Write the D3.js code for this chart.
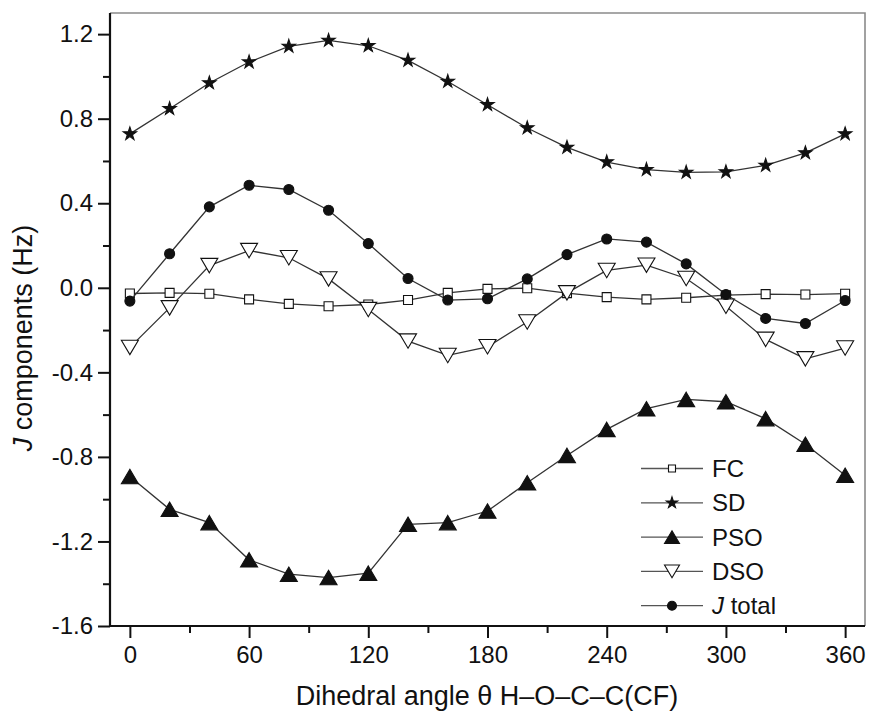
<!DOCTYPE html>
<html>
<head>
<meta charset="utf-8">
<script src="https://cdn.jsdelivr.net/npm/d3@7"></script>
<style>
  html, body { margin: 0; padding: 0; background: #fff; }
  svg { display: block; font-family: "Liberation Sans", Arial, sans-serif; }
</style>
</head>
<body>
<svg id="chart" width="869" height="713"></svg>
<script>
// ---- data ----
const angles = [0, 20, 40, 60, 80, 100, 120, 140, 160, 180, 200, 220, 240, 260, 280, 300, 320, 340, 360];
const FC     = [-0.027, -0.024, -0.028, -0.055, -0.076, -0.087, -0.079, -0.058, -0.024, -0.005, -0.002, -0.025, -0.044, -0.055, -0.047, -0.035, -0.030, -0.032, -0.028];
const SD     = [0.728, 0.847, 0.969, 1.068, 1.142, 1.170, 1.145, 1.076, 0.976, 0.866, 0.756, 0.664, 0.595, 0.559, 0.546, 0.548, 0.579, 0.638, 0.728];
const PSO    = [-0.893, -1.048, -1.111, -1.287, -1.355, -1.371, -1.350, -1.119, -1.111, -1.056, -0.922, -0.793, -0.670, -0.572, -0.528, -0.539, -0.619, -0.740, -0.887];
const DSO    = [-0.282, -0.095, 0.105, 0.176, 0.142, 0.042, -0.103, -0.252, -0.320, -0.279, -0.162, -0.024, 0.082, 0.107, 0.044, -0.087, -0.244, -0.336, -0.285];
const Jtotal = [-0.063, 0.161, 0.383, 0.485, 0.465, 0.367, 0.209, 0.044, -0.058, -0.052, 0.042, 0.157, 0.231, 0.216, 0.113, -0.032, -0.145, -0.169, -0.060];
const seriesNames = ["FC", "SD", "PSO", "DSO", "J total"];
const xTicks = [0, 60, 120, 180, 240, 300, 360];
const yTicks = [-1.6, -1.2, -0.8, -0.4, 0.0, 0.4, 0.8, 1.2];

// ---- layout ----
const L = 110, R = 865, T = 13, B = 626;
const svg = d3.select("#chart");
const x = d3.scaleLinear().domain([-10, 370]).range([L, R]);
const y = d3.scaleLinear().domain([-1.6, 1.3]).range([B, T]);

const ink = "#111";
const lineCol = "#333";
const fontFam = '"Liberation Sans", Arial, sans-serif';

// frame (top & right, gray)
svg.append("path")
  .attr("d", `M${L},${T}H${R}V${B}`)
  .attr("fill", "none").attr("stroke", "#8a8a8a").attr("stroke-width", 1.6);

// minor ticks
const xMinor = d3.range(30, 361, 60);
const yMinor = d3.range(-1.4, 1.21, 0.4).map(v => +v.toFixed(2));
svg.append("g").attr("transform", `translate(0,${B})`)
  .call(d3.axisBottom(x).tickValues(xMinor).tickSize(7).tickFormat(""))
  .call(g => g.select(".domain").remove())
  .call(g => g.selectAll("line").attr("stroke", ink).attr("stroke-width", 2));
svg.append("g").attr("transform", `translate(${L},0)`)
  .call(d3.axisLeft(y).tickValues(yMinor).tickSize(7).tickFormat(""))
  .call(g => g.select(".domain").remove())
  .call(g => g.selectAll("line").attr("stroke", ink).attr("stroke-width", 2));

// major axes
const fmtY = v => d3.format(".1f")(v).replace("\u2212", "-");
const xAxis = svg.append("g").attr("transform", `translate(0,${B})`)
  .call(d3.axisBottom(x).tickValues(xTicks).tickSize(12).tickSizeOuter(0).tickPadding(8).tickFormat(d3.format("d")));
const yAxis = svg.append("g").attr("transform", `translate(${L},0)`)
  .call(d3.axisLeft(y).tickValues(yTicks).tickSize(12).tickSizeOuter(0).tickPadding(5).tickFormat(fmtY));
[xAxis, yAxis].forEach(g => {
  g.select(".domain").attr("stroke", ink).attr("stroke-width", 2.2);
  g.selectAll(".tick line").attr("stroke", ink).attr("stroke-width", 2);
  g.selectAll(".tick text").attr("fill", ink).attr("font-size", 24)
    .attr("font-family", fontFam);
});
xAxis.select(".domain").attr("d", `M${L},0H${R}`);
yAxis.select(".domain").attr("d", `M0,${B}V${T}`);

// axis titles
svg.append("text")
  .attr("x", 487).attr("y", 705)
  .attr("text-anchor", "middle").attr("font-size", 27).attr("fill", ink)
  .text("Dihedral angle θ H–O–C–C(CF)");
const yt = svg.append("text")
  .attr("transform", `translate(32,338) rotate(-90)`)
  .attr("text-anchor", "middle").attr("font-size", 27).attr("fill", ink);
yt.append("tspan").attr("font-style", "italic").text("J");
yt.append("tspan").text(" components (Hz)");

// ---- markers ----
function markerPath(kind, s) {
  switch (kind) {
    case "square": return `M${-s/2},${-s/2}h${s}v${s}h${-s}Z`;
    case "up": { const w = s, h = s * 0.85; return `M0,${-h/2}L${w/2},${h/2}L${-w/2},${h/2}Z`; }
    case "down": { const w = s, h = s * 0.85; return `M0,${h/2}L${w/2},${-h/2}L${-w/2},${-h/2}Z`; }
    case "circle": return d3.symbol(d3.symbolCircle, Math.PI * (s/2) * (s/2))();
    case "star": { const r = s / 2; return d3.symbol(d3.symbolStar, r * r / 0.8908130915292852)(); }
  }
}
const series = [
  { name: "FC", values: FC, kind: "square", fill: "#fff", size: 9, lsize: 7 },
  { name: "SD", values: SD, kind: "star", fill: ink, size: 14, lsize: 12 },
  { name: "PSO", values: PSO, kind: "up", fill: ink, size: 17, lsize: 15 },
  { name: "DSO", values: DSO, kind: "down", fill: "#fff", size: 17, lsize: 15 },
  { name: "J total", values: Jtotal, kind: "circle", fill: ink, size: 10, lsize: 9 }
];

const line = d3.line().x(d => x(d[0])).y(d => y(d[1]));
series.forEach(s => {
  const pts = angles.map((a, i) => [a, s.values[i]]);
  const g = svg.append("g");
  g.append("path").attr("d", line(pts)).attr("fill", "none")
    .attr("stroke", lineCol).attr("stroke-width", 1.3);
  g.selectAll("path.m").data(pts).join("path").attr("class", "m")
    .attr("transform", d => `translate(${x(d[0])},${y(d[1])})`)
    .attr("d", markerPath(s.kind, s.size))
    .attr("fill", s.fill).attr("stroke", ink).attr("stroke-width", 1.1);
});

// ---- legend ----
const leg = svg.append("g");
const legY0 = 468.5, legDy = 34.3;
series.forEach((s, i) => {
  const gy = legY0 + i * legDy;
  leg.append("line").attr("x1", 641).attr("x2", 703).attr("y1", gy).attr("y2", gy)
    .attr("stroke", "#555").attr("stroke-width", 1.3);
  leg.append("path").attr("transform", `translate(672,${gy})`)
    .attr("d", markerPath(s.kind, s.lsize)).attr("fill", s.fill)
    .attr("stroke", ink).attr("stroke-width", 1.1);
  const t = leg.append("text").attr("x", 712).attr("y", gy + 8.5)
    .attr("font-size", 24).attr("fill", ink);
  if (s.name === "J total") {
    t.append("tspan").attr("font-style", "italic").text("J");
    t.append("tspan").text(" total");
  } else {
    t.text(s.name);
  }
});
</script>
</body>
</html>
